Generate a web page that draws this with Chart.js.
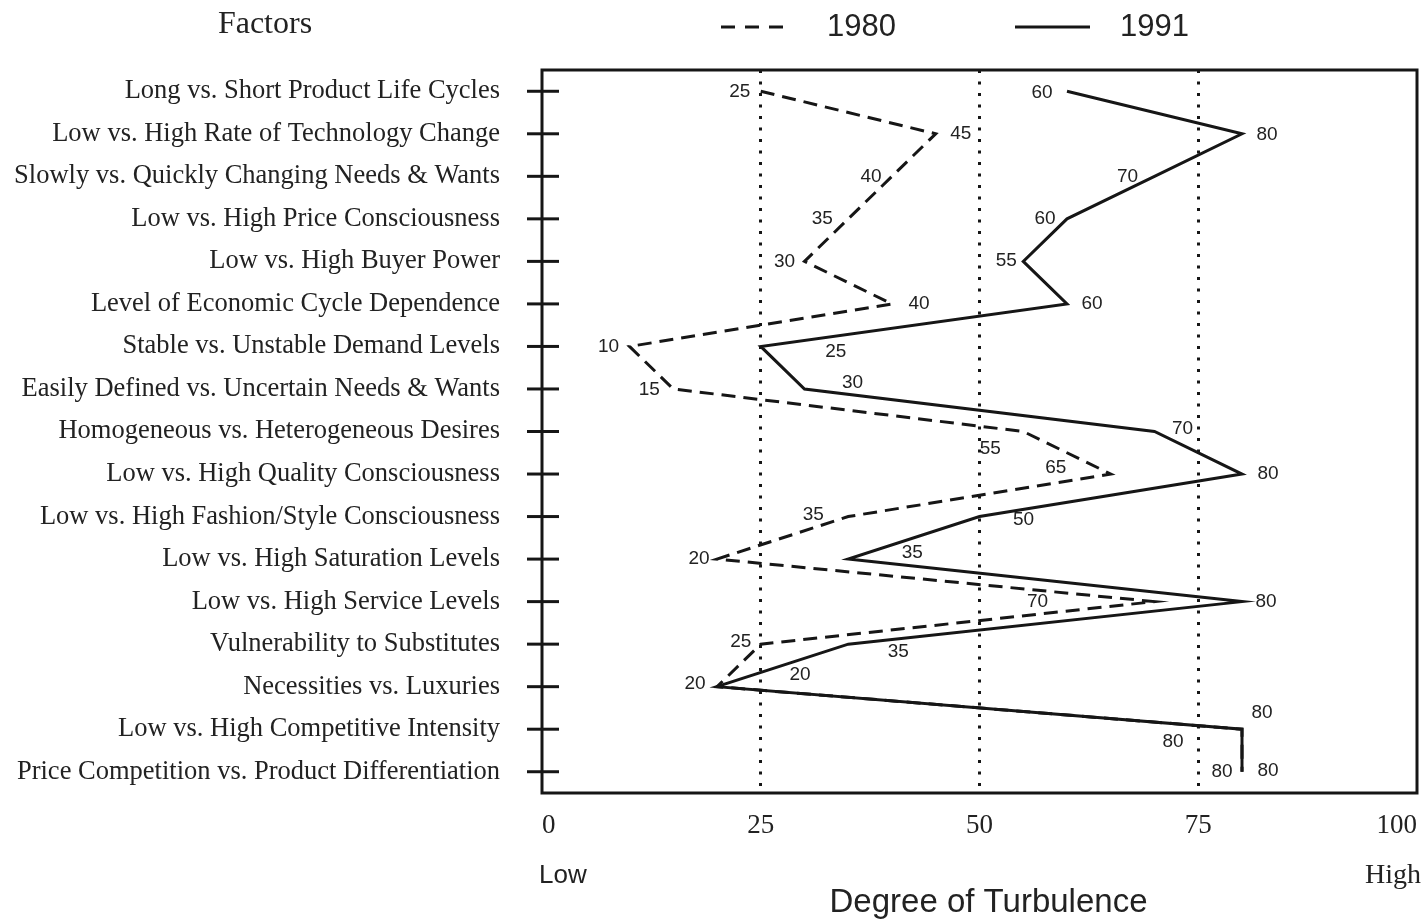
<!DOCTYPE html>
<html><head><meta charset="utf-8">
<script src="https://cdn.jsdelivr.net/npm/chart.js@4/dist/chart.umd.min.js"></script>
<style>html,body{margin:0;padding:0;background:#fff}#wrap{width:1426px;height:921px}</style>
</head><body><div id="wrap"><canvas id="c" width="1426" height="921"></canvas></div>
<script>
const factors = [
  'Long vs. Short Product Life Cycles',
  'Low vs. High Rate of Technology Change',
  'Slowly vs. Quickly Changing Needs & Wants',
  'Low vs. High Price Consciousness',
  'Low vs. High Buyer Power',
  'Level of Economic Cycle Dependence',
  'Stable vs. Unstable Demand Levels',
  'Easily Defined vs. Uncertain Needs & Wants',
  'Homogeneous vs. Heterogeneous Desires',
  'Low vs. High Quality Consciousness',
  'Low vs. High Fashion/Style Consciousness',
  'Low vs. High Saturation Levels',
  'Low vs. High Service Levels',
  'Vulnerability to Substitutes',
  'Necessities vs. Luxuries',
  'Low vs. High Competitive Intensity',
  'Price Competition vs. Product Differentiation'
];
const values1980 = [25,45,40,35,30,40,10,15,55,65,35,20,70,25,20,80,80];
const values1991 = [60,80,70,60,55,60,25,30,70,80,50,35,80,35,20,80,80];
const seriesNames = ['1980','1991'];
const xTicks = [0,25,50,75,100];
const gridValues = [25,50,75];

// label placement (pixel offsets of value labels from their points)
const labelOffsets = [
  [[-21,1],[25,0],[-21,0],[-26,0],[-20,0],[27,0],[-21,0],[-24,1],[-33,17],[-55,-6],[-35,-2],[-18,0],[-117,0],[-20,-2],[-22,-3],[-69,13],[-20,0]],
  [[-25,2],[25,1],[-27,0],[-22,0],[-17,-1],[25,0],[75,5],[48,-6],[28,-3],[26,0],[44,3],[64,-6],[24,0],[50,8],[83,-12],[20,-16],[26,-1]]
];

const INK = '#161616';
const TXT = '#222';

const decor = {
  id: 'decor',
  afterDraw(chart) {
    const {ctx, chartArea: a, scales: {x, y}} = chart;
    ctx.save();
    ctx.strokeStyle = INK;
    ctx.lineWidth = 3;
    ctx.setLineDash([]);
    ctx.strokeRect(a.left, a.top, a.right - a.left, a.bottom - a.top);
    // crossing tick marks on the category axis
    y.ticks.forEach((t, i) => {
      const py = y.getPixelForTick(i);
      ctx.beginPath(); ctx.moveTo(a.left - 15, py); ctx.lineTo(a.left + 17, py); ctx.stroke();
    });
    // value labels
    ctx.font = '19px "Liberation Sans"';
    ctx.fillStyle = TXT; ctx.textAlign = 'center'; ctx.textBaseline = 'middle';
    chart.data.datasets.forEach((ds, di) => {
      const meta = chart.getDatasetMeta(di);
      meta.data.forEach((pt, i) => {
        const o = labelOffsets[di][i];
        ctx.fillText(String(ds.data[i]), pt.x + o[0], pt.y + o[1]);
      });
    });
    // legend
    ctx.lineWidth = 3;
    ctx.setLineDash([14, 10]);
    ctx.beginPath(); ctx.moveTo(721, 27); ctx.lineTo(792, 27); ctx.stroke();
    ctx.setLineDash([]);
    ctx.beginPath(); ctx.moveTo(1015, 27); ctx.lineTo(1090, 27); ctx.stroke();
    ctx.font = '31px "Liberation Sans"'; ctx.textAlign = 'left';
    ctx.fillText(seriesNames[0], 827, 27);
    ctx.fillText(seriesNames[1], 1120, 27);
    // titles
    ctx.font = '32px "Liberation Serif"'; ctx.textAlign = 'center';
    ctx.fillText('Factors', 265, 25);
    ctx.font = '26px "Liberation Sans"'; ctx.textAlign = 'left';
    ctx.fillText('Low', 539, 876);
    ctx.font = '28px "Liberation Serif"'; ctx.textAlign = 'right';
    ctx.fillText('High', 1421, 876);
    ctx.font = '33px "Liberation Sans"'; ctx.textAlign = 'center';
    ctx.fillText('Degree of Turbulence', (a.left + a.right) / 2 + 9, 903);
    ctx.restore();
  }
};

new Chart(document.getElementById('c'), {
  type: 'line',
  data: {
    labels: factors,
    datasets: [
      { label: seriesNames[0], data: values1980, borderColor: INK, borderWidth: 3, borderDash: [14, 8],
        borderJoinStyle: 'miter', pointRadius: 0, tension: 0, fill: false },
      { label: seriesNames[1], data: values1991, borderColor: INK, borderWidth: 3,
        borderJoinStyle: 'miter', pointRadius: 0, tension: 0, fill: false }
    ]
  },
  options: {
    indexAxis: 'y',
    responsive: false,
    animation: false,
    layout: { padding: { top: 70, right: 9, left: 0, bottom: 0 } },
    plugins: { legend: { display: false }, tooltip: { enabled: false }, title: { display: false } },
    scales: {
      y: {
        type: 'category',
        offset: true,
        grid: { display: false, drawTicks: false },
        border: { display: false },
        ticks: { autoSkip: false, padding: 42, color: TXT, font: { family: 'Liberation Serif', size: 26.5 } },
        afterFit(s) { s.width = 542; }
      },
      x: {
        type: 'linear',
        min: 0, max: 100,
        afterBuildTicks(s) { s.ticks = xTicks.map(v => ({ value: v })); },
        grid: {
          drawTicks: false,
          lineWidth: 3,
          color: c => gridValues.includes(c.tick && c.tick.value) ? INK : 'rgba(0,0,0,0)'
        },
        border: { display: false, dash: [3, 8.5] },
        ticks: { align: 'inner', maxRotation: 0, padding: 17, color: TXT, font: { family: 'Liberation Serif', size: 27 } },
        afterFit(s) { s.height = 128; s.paddingLeft = 0; s.paddingRight = 0; }
      }
    }
  },
  plugins: [decor]
});
</script>
</body></html>
